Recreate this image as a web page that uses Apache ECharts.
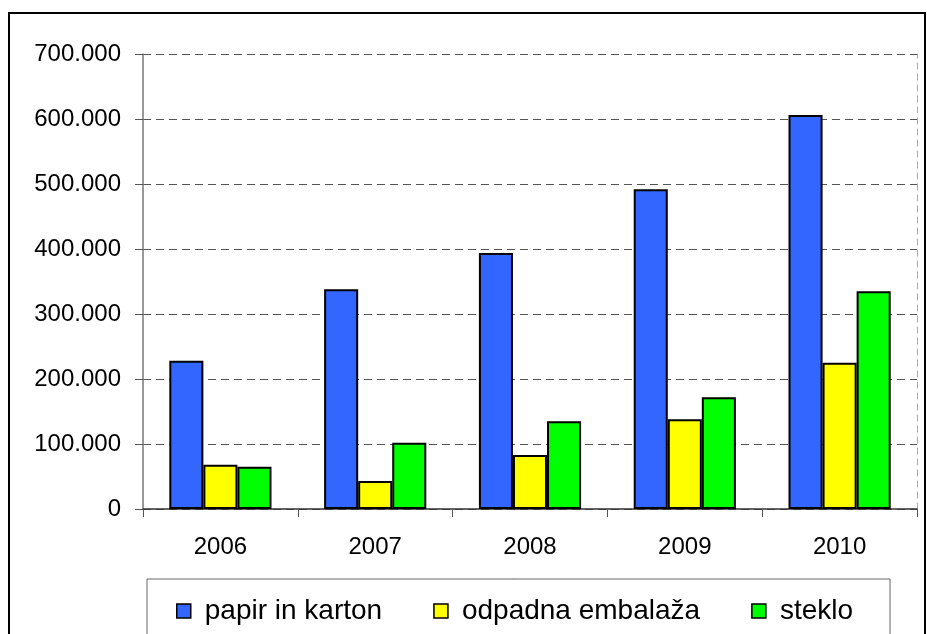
<!DOCTYPE html>
<html>
<head>
<meta charset="utf-8">
<title>papir, embalaza, steklo</title>
<script src="https://cdn.jsdelivr.net/npm/echarts@6/dist/echarts.min.js"></script>
<style>
	html, body { margin: 0; padding: 0; background: #fff; }
	#chart { width: 927px; height: 634px; }
</style>
</head>
<body>
<div id="chart"></div>
<script>
// data
var years = ['2006', '2007', '2008', '2009', '2010'];
var papirInKarton = [228000, 338000, 394000, 492000, 606000];
var odpadnaEmbalaza = [68000, 43000, 83000, 138000, 225000];
var steklo = [65000, 102000, 135000, 172000, 335000];
var yTicks = [0, 700000, 100000]; // min, max, interval

var font = "'Liberation Sans', Arial, sans-serif";

function fmt(v){
	// 700000 -> 700.000
	return String(v).replace(/\B(?=(\d{3})+(?!\d))/g, '.');
}

function bar(name, data, color){
	return {
		name : name,
		type : 'bar',
		data : data,
		barGap : '0%',
		barCategoryGap : '34%',
		itemStyle : {
			color : color,
			borderColor : '#000',
			borderWidth : 2
		}
	};
}

var myChart = echarts.init(document.getElementById('chart'));
var option = {
	animation : false,
	textStyle : { fontFamily : font },
	graphic : [{
		type : 'rect',
		silent : true,
		shape : { x : 9, y : 13, width : 916, height : 800 },
		style : { fill : 'none', stroke : '#000', lineWidth : 2 }
	}],
	grid : {
		left : 143,
		right : 10,
		top : 54,
		bottom : 125
	},
	legend : {
		left : 147,
		top : 579,
		orient : 'horizontal',
		padding : [18, 37, 60, 29],
		borderColor : '#666',
		borderWidth : 1,
		itemWidth : 14,
		itemHeight : 14,
		itemGap : 51,
		icon : 'rect',
		itemStyle : {
			borderColor : '#000',
			borderWidth : 1.5
		},
		textStyle : {
			color : '#000',
			fontSize : 28,
			fontFamily : font,
			padding : [0, 0, 0, 9]
		},
		data : ['papir in karton', 'odpadna embalaža', 'steklo']
	},
	xAxis : {
		type : 'category',
		data : years,
		boundaryGap : true,
		axisLine : {
			lineStyle : { color : '#333', width : 1.5 }
		},
		axisTick : {
			show : true,
			inside : false,
			length : 8,
			lineStyle : { color : '#555' }
		},
		axisLabel : {
			color : '#000',
			fontSize : 24,
			fontFamily : font,
			margin : 26
		}
	},
	yAxis : [{
		type : 'value',
		min : yTicks[0],
		max : yTicks[1],
		interval : yTicks[2],
		axisLine : {
			show : true,
			lineStyle : { color : '#777', width : 1.5 }
		},
		axisTick : {
			show : true,
			inside : false,
			length : 8,
			lineStyle : { color : '#555' }
		},
		axisLabel : {
			color : '#000',
			fontSize : 24,
			fontFamily : font,
			margin : 22,
			formatter : fmt
		},
		splitLine : {
			show : true,
			lineStyle : {
				color : '#555',
				type : [8, 5],
				width : 1
			}
		}
	}, {
		// dashed right edge of the plot
		type : 'value',
		position : 'right',
		min : yTicks[0],
		max : yTicks[1],
		interval : yTicks[2],
		axisLine : {
			show : true,
			lineStyle : { color : '#aaa', type : [6, 5], width : 1 }
		},
		axisTick : { show : false },
		axisLabel : { show : false },
		splitLine : { show : false }
	}],
	series : [
		bar('papir in karton', papirInKarton, '#3366FF'),
		bar('odpadna embalaža', odpadnaEmbalaza, '#FFFF00'),
		bar('steklo', steklo, '#00FF00')
	]
};
myChart.setOption(option);
</script>
</body>
</html>
